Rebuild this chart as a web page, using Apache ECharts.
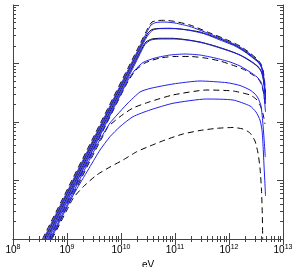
<!DOCTYPE html>
<html><head><meta charset="utf-8">
<script src="https://cdn.jsdelivr.net/npm/echarts@6/dist/echarts.min.js"></script>
<style>html,body{margin:0;padding:0;background:#fff}#c{width:304px;height:267px}</style>
</head><body><div id="c"></div>
<script>
// All values are log10: x = log10(eV), y = log10(flux, arbitrary units)
const xTickExponents = [8, 9, 10, 11, 12, 13];
const yTickExponents = [0, 1, 2, 3, 4];

// pair 1
const black1 = [[8.546,0],[10.352,3.333],[10.5,3.607],[10.574,3.709],[10.685,3.735],[10.815,3.738],[11.0,3.718],[11.278,3.658],[11.648,3.521],[11.926,3.419],[12.204,3.299],[12.389,3.179],[12.519,3.077],[12.593,2.991],[12.630,2.889],[12.657,2.718],[12.676,2.513]];
const blue1 = [[8.565,0],[10.352,3.299],[10.481,3.538],[10.556,3.658],[10.648,3.701],[10.815,3.709],[11.0,3.692],[11.278,3.632],[11.648,3.504],[11.926,3.402],[12.204,3.282],[12.389,3.162],[12.519,3.060],[12.593,2.974],[12.630,2.855],[12.657,2.632],[12.676,2.376]];
// pair 2
const black2 = [[8.583,0],[10.426,3.402],[10.5,3.521],[10.574,3.581],[10.685,3.598],[10.907,3.602],[11.185,3.581],[11.463,3.538],[11.741,3.453],[12.019,3.350],[12.204,3.265],[12.389,3.145],[12.519,3.043],[12.593,2.957],[12.630,2.838],[12.657,2.632],[12.676,2.462]];
const blue2 = [[8.602,0],[10.407,3.333],[10.5,3.487],[10.593,3.573],[10.722,3.596],[11.0,3.596],[11.278,3.564],[11.556,3.504],[11.833,3.402],[12.111,3.299],[12.296,3.197],[12.444,3.094],[12.556,3.009],[12.611,2.906],[12.648,2.718],[12.676,2.376]];
// pair 3
const black3 = [[8.620,0],[10.352,3.197],[10.463,3.368],[10.574,3.419],[10.722,3.431],[10.944,3.431],[11.185,3.410],[11.463,3.368],[11.741,3.299],[12.019,3.214],[12.204,3.145],[12.389,3.043],[12.519,2.957],[12.593,2.872],[12.630,2.752],[12.657,2.581],[12.676,2.427]];
const blue3 = [[8.639,0],[10.333,3.128],[10.444,3.325],[10.556,3.402],[10.722,3.419],[11.0,3.419],[11.278,3.393],[11.556,3.342],[11.833,3.265],[12.111,3.179],[12.296,3.103],[12.444,3.017],[12.556,2.932],[12.611,2.838],[12.648,2.684],[12.676,2.308]];
// pair 4
const blue4 = [[8.657,0],[10.130,2.718],[10.259,2.889],[10.407,3.017],[10.630,3.094],[10.907,3.145],[11.185,3.162],[11.463,3.145],[11.741,3.094],[12.019,3.026],[12.204,2.957],[12.389,2.855],[12.519,2.769],[12.593,2.684],[12.630,2.564],[12.657,2.376],[12.676,2.171]];
const dash4 = [[8.667,0],[10.093,2.632],[10.259,2.872],[10.444,3.009],[10.722,3.094],[11.0,3.120],[11.278,3.120],[11.556,3.094],[11.833,3.043],[12.111,2.957],[12.296,2.889],[12.444,2.803],[12.556,2.718],[12.611,2.615],[12.648,2.462],[12.667,2.291]];
// pair 5
const blue5 = [[8.685,0],[9.556,1.607],[9.704,1.846],[9.796,1.983],[9.926,2.120],[10.111,2.308],[10.352,2.513],[10.537,2.573],[10.963,2.650],[11.463,2.701],[11.963,2.672],[12.204,2.624],[12.389,2.547],[12.481,2.479],[12.537,2.410],[12.593,2.274],[12.630,1.949],[12.657,1.607],[12.672,1.402]];
const dash5 = [[8.704,0],[9.519,1.504],[9.667,1.761],[9.759,1.915],[9.981,2.091],[10.222,2.239],[10.537,2.347],[10.963,2.462],[11.593,2.547],[12.074,2.530],[12.389,2.462],[12.5,2.393],[12.574,2.291],[12.630,2.137],[12.667,1.966]];
// pair 6
const blue6 = [[8.704,0],[9.056,0.650],[9.185,0.863],[9.426,1.236],[9.611,1.521],[9.796,1.749],[9.981,1.920],[10.222,2.091],[10.537,2.205],[10.963,2.320],[11.587,2.393],[12.074,2.376],[12.389,2.274],[12.5,2.171],[12.574,2.034],[12.611,1.863],[12.630,1.607],[12.648,1.265],[12.667,0.923],[12.676,0.735]];
const dash6 = [[8.722,0],[8.981,0.462],[9.117,0.701],[9.302,0.894],[9.550,1.094],[9.796,1.231],[10.037,1.350],[10.291,1.492],[10.537,1.590],[10.815,1.692],[11.148,1.795],[11.463,1.855],[11.778,1.892],[12.074,1.906],[12.259,1.880],[12.389,1.812],[12.481,1.675],[12.537,1.470],[12.574,1.214],[12.602,0.838],[12.617,0.410],[12.624,0]];

const blackSolid = [black2, black3];
const blackDashed = [black1, dash4, dash5, dash6];
const blueSolid = [blue1, blue2, blue3, blue4, blue5, blue6];

const frameColor = '#444';
function minorTicks(exps) {
  const out = [];
  for (let i = 0; i < exps.length - 1; i++)
    for (let k = 2; k <= 9; k++) out.push(exps[i] + Math.log10(k));
  return out;
}
const xMinor = minorTicks(xTickExponents);
const yMinor = minorTicks(yTickExponents);

function axis(pos, dimExps, minor, isX, withLabel) {
  const a = {
    type: 'value', position: pos,
    min: dimExps[0], max: dimExps[dimExps.length - 1],
    interval: 1,
    splitLine: { show: false },
    axisLine: { show: !minor, lineStyle: { color: frameColor, width: 1 } },
    axisTick: { show: true, inside: true, length: minor ? 3 : 6, lineStyle: { color: frameColor, width: 1 } },
    axisLabel: { show: false }
  };
  if (minor) a.axisTick.customValues = isX ? xMinor : yMinor;
  if (withLabel) {
    a.axisLabel = {
      show: true, margin: 5,
      formatter: v => '{b|10}{s|' + v + '}',
      rich: {
        b: { fontSize: 10, fontFamily: 'Liberation Sans', color: '#000' },
        s: { fontSize: 7, fontFamily: 'Liberation Sans', color: '#000', padding: [0, 0, 6, 0] }
      }
    };
    a.name = 'eV';
    a.nameLocation = 'middle';
    a.nameGap = 16;
    a.nameTextStyle = { fontSize: 10, fontFamily: 'Liberation Sans', color: '#000' };
  }
  return a;
}

const series = [];
const base = { type: 'line', showSymbol: false, smooth: 0.2, clip: true };
blackSolid.forEach(d => series.push(Object.assign({}, base, { data: d, lineStyle: { color: '#000', width: 1 } })));
blackDashed.forEach(d => series.push(Object.assign({}, base, { data: d, lineStyle: { color: '#000', width: 1, type: [6, 4] } })));
blueSolid.forEach(d => series.push(Object.assign({}, base, { data: d, lineStyle: { color: '#1f1ff0', width: 1 } })));

const chart = echarts.init(document.getElementById('c'), null, { renderer: 'canvas' });
chart.setOption({
  animation: false,
  grid: { left: 13, right: 21, top: 5, bottom: 28, containLabel: false, outerBoundsMode: 'none' },
  xAxis: [
    axis('bottom', xTickExponents, false, true, true),
    axis('bottom', xTickExponents, true, true, false),
    axis('top', xTickExponents, false, true, false),
    axis('top', xTickExponents, true, true, false)
  ],
  yAxis: [
    axis('left', yTickExponents, false, false, false),
    axis('left', yTickExponents, true, false, false),
    axis('right', yTickExponents, false, false, false),
    axis('right', yTickExponents, true, false, false)
  ],
  series: series
});
</script></body></html>
